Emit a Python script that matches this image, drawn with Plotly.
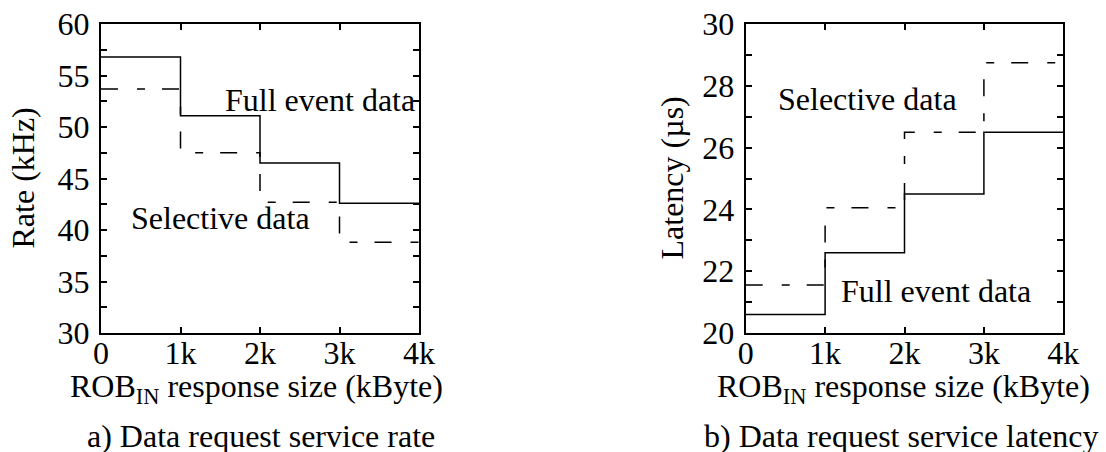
import plotly.graph_objects as go

# Data
x_edges = [0, 1000, 2000, 3000, 4000]
x_ticktext = ["0", "1k", "2k", "3k", "4k"]

rate_full = [56.8, 51.1, 46.5, 42.6]
rate_selective = [53.7, 47.5, 42.7, 38.8]

lat_full = [20.6, 22.6, 24.5, 26.5]
lat_selective = [21.55, 24.05, 26.5, 28.75]

FONT = "Liberation Serif, Times New Roman, serif"
FS = 32
DASH = "17px,19px,8px,17px"

fig = go.Figure()

def step(vals):
    return vals + [vals[-1]]

fig.add_trace(go.Scatter(x=x_edges, y=step(rate_full), mode="lines", line_shape="hv",
                         line=dict(color="black", width=1.5), xaxis="x", yaxis="y", showlegend=False))
fig.add_trace(go.Scatter(x=x_edges, y=step(rate_selective), mode="lines", line_shape="hv",
                         line=dict(color="black", width=1.5, dash=DASH), xaxis="x", yaxis="y", showlegend=False))
fig.add_trace(go.Scatter(x=x_edges, y=step(lat_full), mode="lines", line_shape="hv",
                         line=dict(color="black", width=1.5), xaxis="x2", yaxis="y2", showlegend=False))
fig.add_trace(go.Scatter(x=x_edges, y=step(lat_selective), mode="lines", line_shape="hv",
                         line=dict(color="black", width=1.5, dash=DASH), xaxis="x2", yaxis="y2", showlegend=False))

W, H = 1106, 452
ytop = 1 - 24 / H
ybot = 1 - 333 / H

xcommon = dict(range=[0, 4000], tickvals=x_edges, ticktext=x_ticktext, showline=True, linecolor="black",
               linewidth=2, mirror="ticks", ticks="inside", ticklen=6, tickwidth=1.5, tickcolor="black",
               showgrid=False, zeroline=False, ticklabelstandoff=-9,
               tickfont=dict(family=FONT, size=FS, color="black"))
ycommon = dict(showline=True, linecolor="black", linewidth=2, mirror="ticks", ticks="inside", ticklen=6,
               tickwidth=1.5, tickcolor="black", showgrid=False, zeroline=False, ticklabelstandoff=3,
               tickfont=dict(family=FONT, size=FS, color="black"))

fig.update_layout(
    width=W, height=H, margin=dict(l=0, r=0, t=0, b=0, autoexpand=False),
    paper_bgcolor="white", plot_bgcolor="white",
    font=dict(family=FONT, size=FS, color="black"),
    xaxis=dict(domain=[101 / W, 419 / W], anchor="y", **xcommon),
    yaxis=dict(domain=[ybot, ytop], anchor="x", range=[30, 60], tickvals=[30, 35, 40, 45, 50, 55, 60],
               minor=dict(dtick=2.5, ticks="inside", ticklen=6, tickwidth=1.5, tickcolor="black", showgrid=False),
               **ycommon),
    xaxis2=dict(domain=[745.7 / W, 1063.3 / W], anchor="y2", **xcommon),
    yaxis2=dict(domain=[ybot, ytop], anchor="x2", range=[20, 30], tickvals=[20, 22, 24, 26, 28, 30],
                minor=dict(dtick=1, ticks="inside", ticklen=6, tickwidth=1.5, tickcolor="black", showgrid=False),
                **ycommon),
)

C = dict(showarrow=False, xanchor="center", yanchor="middle")
ann = []
# in-plot labels
ann.append(dict(x=2755, y=52.6, xref="x", yref="y", text="Full event data", **C))
ann.append(dict(x=1500, y=41.2, xref="x", yref="y", text="Selective data", **C))
ann.append(dict(x=1540, y=27.57, xref="x2", yref="y2", text="Selective data", **C))
ann.append(dict(x=2400, y=21.36, xref="x2", yref="y2", text="Full event data", **C))
# axis titles
ann.append(dict(x=256 / W, y=1 - 388 / H, xref="paper", yref="paper", text="ROB<sub>IN</sub> response size (kByte)", **C))
ann.append(dict(x=903 / W, y=1 - 388 / H, xref="paper", yref="paper", text="ROB<sub>IN</sub> response size (kByte)", **C))
ann.append(dict(x=22 / W, y=1 - 178.5 / H, xref="paper", yref="paper", text="Rate (kHz)", textangle=-90, **C))
ann.append(dict(x=671 / W, y=1 - 178.5 / H, xref="paper", yref="paper", text="Latency (µs)", textangle=-90, **C))
# captions
ann.append(dict(x=261 / W, y=1 - 436 / H, xref="paper", yref="paper", text="a) Data request service rate", **C))
ann.append(dict(x=901 / W, y=1 - 436 / H, xref="paper", yref="paper", text="b) Data request service latency", **C))
fig.update_layout(annotations=ann)

fig.write_html("out.html")
